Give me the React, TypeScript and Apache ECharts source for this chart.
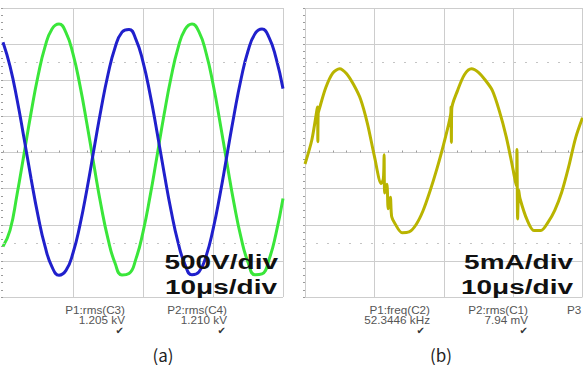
import React, { useEffect, useRef } from "react";
import * as echarts from "echarts";

// Panel (a): time in µs, voltages in V (500 V/div, 10 µs/div)
const leftTimes = [0, 1, 2, 3, 4, 5, 6, 7, 8, 9, 10, 11, 12, 13, 14, 15, 16, 17, 18, 19, 20, 21, 22, 23, 24, 25, 26, 27, 28, 29, 30, 31, 32, 33, 34, 35, 36, 37, 38, 39, 40];
const greenVolts = [-1300, -1079, -584, -23, 545, 1058, 1461, 1710, 1778, 1659, 1364, 926, 392, -180, -730, -1196, -1530, -1696, -1675, -1469, -1101, -611, -51, 518, 1035, 1444, 1702, 1779, 1669, 1382, 951, 420, -152, -704, -1176, -1518, -1692, -1680, -1483, -1123, -638];
const blueVolts = [1526, 1195, 737, 202, -355, -873, -1297, -1583, -1698, -1632, -1391, -1001, -504, 48, 595, 1080, 1450, 1666, 1704, 1562, 1254, 812, 284, -273, -800, -1242, -1550, -1693, -1653, -1438, -1067, -583, -35, 516, 1014, 1404, 1644, 1710, 1594, 1309, 884];

// Panel (b): time in µs, current in mA (5 mA/div, 10 µs/div)
const rightTimes = [0, 1, 1.8, 1.85, 1.9, 2, 3, 4, 5, 6, 7, 8, 9, 10, 11, 11.3, 11.4, 11.5, 11.8, 12, 12.3, 12.5, 13, 14, 15, 16, 17, 18, 19, 20, 21, 21.05, 21.1, 21.15, 22, 23, 24, 25, 26, 27, 28, 29, 30, 30.45, 30.55, 30.65, 30.8, 31, 32, 33, 34, 35, 36, 37, 38, 39, 40];
const currentMilliamps = [-1.6, 1.8, 6.3, 1.5, 5.4, 5.8, 9.0, 11.0, 11.6, 10.9, 9.4, 7.4, 4.0, -0.5, -4.3, -3.6, -0.3, -5.6, -4.4, -7.8, -6.2, -8.9, -9.9, -11.1, -11.0, -10.0, -8.1, -5.4, -2.3, 1.2, 5.3, 6.3, 1.4, 6.0, 8.6, 10.8, 11.6, 11.1, 10.0, 8.6, 5.8, 2.2, -2.4, -4.6, 0.4, -9.2, -5.2, -6.4, -9.3, -10.8, -10.8, -9.7, -8.0, -5.5, -2.0, 2.0, 4.8];

const scaleLabels = ["500V/div", "10μs/div", "5mA/div", "10μs/div"];
const measureNames = ["P1:rms(C3)", "P2:rms(C4)", "P1:freq(C2)", "P2:rms(C1)"];
const measureValues = ["1.205 kV", "1.210 kV", "52.3446 kHz", "7.94 mV"];
const panelCaptions = ["(a)", "(b)"];

const GRID_COLOR = "#cdcdcd";
const TICK_COLOR = "#9a9a9a";

function xAxisFor(gridIndex: number, showMin: boolean) {
  return {
    gridIndex,
    type: "value",
    min: 0,
    max: 40,
    interval: 10,
    axisLine: { show: true, onZero: true, lineStyle: { color: GRID_COLOR, width: 1 } },
    axisTick: { show: true, inside: true, length: 2, lineStyle: { color: TICK_COLOR } },
    minorTick: { show: true, splitNumber: 5, length: 2, lineStyle: { color: TICK_COLOR } },
    axisLabel: { show: false },
    splitLine: { show: true, showMinLine: showMin, lineStyle: { color: GRID_COLOR, width: 1 } },
  };
}

function yAxisFor(gridIndex: number, lim: number, step: number) {
  return {
    gridIndex,
    type: "value",
    min: -lim,
    max: lim,
    interval: step,
    position: "right",
    axisLine: { show: false },
    axisTick: { show: true, inside: true, length: 2, lineStyle: { color: TICK_COLOR } },
    minorTick: { show: true, splitNumber: 5, length: 2, lineStyle: { color: TICK_COLOR } },
    axisLabel: { show: false },
    splitLine: { show: true, lineStyle: { color: GRID_COLOR, width: 1 } },
  };
}

function levelMarks(level: number) {
  return {
    silent: true,
    symbol: "none",
    label: { show: false },
    lineStyle: { color: "#c4c4c4", type: [2, 9], width: 1 },
    data: [{ yAxis: level }, { yAxis: -level }],
  };
}

export default function App() {
  const ref = useRef<HTMLDivElement>(null);

  useEffect(() => {
    if (!ref.current) return;
    const chart = echarts.init(ref.current, null, { renderer: "svg" });

    const bigFont = 'bold 20px "Liberation Sans", Arial, sans-serif';
    const smallFont = '10px "Liberation Sans", Arial, sans-serif';
    const graphic: any[] = [];
    const bigPos = [
      [278, 262],
      [277, 287],
      [573, 262],
      [573, 287],
    ];
    scaleLabels.forEach((t, i) => {
      graphic.push({
        type: "text",
        x: bigPos[i][0],
        y: bigPos[i][1],
        scaleX: 1.4,
        z: 100,
        style: { text: t, font: bigFont, fill: "#111", textAlign: "right", textVerticalAlign: "middle" },
      });
    });
    const colRight = [125, 227, 430, 528];
    const checkX = [124, 226, 425, 528];
    measureNames.forEach((t, i) => {
      graphic.push({
        type: "text", x: colRight[i], y: 310, scaleX: 1.17, z: 100,
        style: { text: t, font: smallFont, fill: "#555", textAlign: "right", textVerticalAlign: "middle" },
      });
      graphic.push({
        type: "text", x: colRight[i], y: 320, scaleX: 1.17, z: 100,
        style: { text: measureValues[i], font: smallFont, fill: "#555", textAlign: "right", textVerticalAlign: "middle" },
      });
      graphic.push({
        type: "text", x: checkX[i], y: 330, z: 100,
        style: { text: "✔", font: '10px "DejaVu Sans", sans-serif', fill: "#333", textAlign: "right", textVerticalAlign: "middle" },
      });
    });
    graphic.push({
      type: "text", x: 567, y: 310, scaleX: 1.17, z: 100,
      style: { text: "P3", font: smallFont, fill: "#555", textAlign: "left", textVerticalAlign: "middle" },
    });
    const capX = [163, 441];
    panelCaptions.forEach((t, i) => {
      graphic.push({
        type: "text", x: capX[i], y: 354, z: 100,
        style: { text: t, font: '17px "Noto Sans CJK KR", sans-serif', fill: "#222", textAlign: "center", textVerticalAlign: "middle" },
      });
    });

    chart.setOption({
      animation: false,
      backgroundColor: "#ffffff",
      grid: [
        { left: 3, top: 8, width: 280, height: 289 },
        { left: 305, top: 8, width: 277.5, height: 289 },
      ],
      xAxis: [xAxisFor(0, false), xAxisFor(1, true)],
      yAxis: [yAxisFor(0, 2000, 500), yAxisFor(1, 20, 5)],
      series: [
        {
          type: "line",
          xAxisIndex: 0,
          yAxisIndex: 0,
          data: leftTimes.map((t, i) => [t, greenVolts[i]]),
          smooth: true,
          showSymbol: false,
          lineStyle: { color: "#3ae63a", width: 3 },
          markLine: levelMarks(1250),
        },
        {
          type: "line",
          xAxisIndex: 0,
          yAxisIndex: 0,
          data: leftTimes.map((t, i) => [t, blueVolts[i]]),
          smooth: true,
          showSymbol: false,
          lineStyle: { color: "#2020cc", width: 3 },
        },
        {
          type: "line",
          xAxisIndex: 1,
          yAxisIndex: 1,
          data: rightTimes.map((t, i) => [t, currentMilliamps[i]]),
          smooth: 0.3,
          showSymbol: false,
          lineStyle: { color: "#b9b400", width: 3 },
          markLine: levelMarks(12.5),
        },
      ],
      graphic,
    });

    return () => chart.dispose();
  }, []);

  return (
    <div
      ref={ref}
      style={{ position: "fixed", left: 0, top: 0, width: 583, height: 365, background: "#fff" }}
    />
  );
}
